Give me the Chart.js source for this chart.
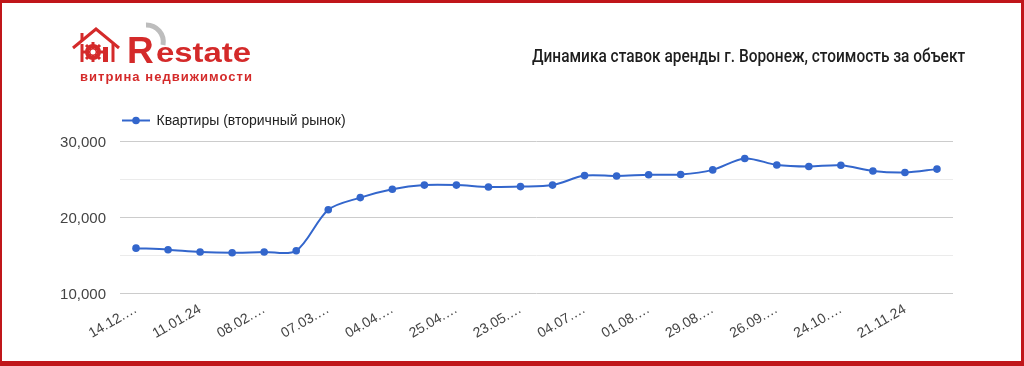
<!DOCTYPE html>
<html><head><meta charset="utf-8">
<script src="https://cdn.jsdelivr.net/npm/chart.js@4"></script>
<style>
html,body{margin:0;padding:0;background:#fff;}
#wrap{position:relative;width:1024px;height:366px;overflow:hidden;background:#fff;}
#frame{position:absolute;left:0;top:0;width:1024px;height:366px;box-sizing:border-box;border-style:solid;border-color:#c0161a;border-width:3px 3px 5px 2px;pointer-events:none;z-index:5;}
#c{position:absolute;left:0;top:0;}
#title{position:absolute;left:532px;top:44px;font-family:Roboto,"Liberation Sans",sans-serif;font-weight:500;font-size:19px;color:#1e1e1e;white-space:nowrap;transform-origin:0 0;}
#logo{position:absolute;left:0;top:0;}
</style></head>
<body><div id="wrap">
<canvas id="c" width="1024" height="366"></canvas>
<svg id="logo" width="280" height="95" xmlns="http://www.w3.org/2000/svg">
  <path d="M146 25 A17 17 0 0 1 163 45" stroke="#bdbdbd" stroke-width="5" fill="none"/>
  <g stroke="#d42a2a" stroke-width="3" fill="none" stroke-linejoin="miter">
    <polyline points="73,48 96,29 119,48"/>
    <line x1="82" y1="44" x2="82" y2="62"/>
    <line x1="113" y1="44" x2="113" y2="62"/>
    <line x1="82" y1="41" x2="82" y2="33"/>
  </g>
  <rect x="103" y="47" width="5" height="15" fill="#d42a2a"/>
  <circle cx="93" cy="52" r="6" fill="none" stroke="#d42a2a" stroke-width="4"/>
  <g stroke="#d42a2a" stroke-width="3">
    <line x1="93" y1="42" x2="93" y2="62"/><line x1="83" y1="52" x2="103" y2="52"/>
    <line x1="86" y1="45" x2="100" y2="59"/><line x1="100" y1="45" x2="86" y2="59"/>
  </g>
  <circle cx="93" cy="52" r="2.5" fill="#fff"/>
  <text x="127" y="63" font-family="Liberation Sans, Arial, sans-serif" font-weight="bold" font-size="37" fill="#d42a2a">R</text>
  <text x="156" y="62" font-family="Liberation Sans, Arial, sans-serif" font-weight="bold" font-size="27" fill="#d42a2a" textLength="95" lengthAdjust="spacingAndGlyphs">estate</text>
  <text x="80" y="81" font-family="Liberation Sans, Arial, sans-serif" font-weight="bold" font-size="13" fill="#d42a2a" textLength="172" lengthAdjust="spacing">витрина недвижимости</text>
</svg>
<div id="title">Динамика ставок аренды г. Воронеж, стоимость за объект</div>
<div id="frame"></div>
</div>
<script>
// ---- data ----
const categories = ['14.12.…','28.12.…','11.01.24','25.01.…','08.02.…','22.02.…','07.03.…','21.03.…','04.04.…','11.04.…','25.04.…','09.05.…','23.05.…','06.06.…','04.07.…','18.07.…','01.08.…','15.08.…','29.08.…','12.09.…','26.09.…','10.10.…','24.10.…','07.11.…','21.11.24','05.12.…'];
const seriesName = 'Квартиры (вторичный рынок)';
const seriesValues = [15900,15700,15400,15300,15400,15550,20950,22550,23650,24200,24200,23950,24000,24200,25450,25400,25550,25600,26200,27700,26850,26650,26800,26050,25850,26300];
const yTickValues = [10000,20000,30000];
const seriesColor = '#3366cc';

// fit title width
const t = document.getElementById('title');
t.style.transform = 'scaleX(' + (433 / t.scrollWidth) + ')';

const legendPlugin = {
  id: 'gLegend',
  afterDraw(chart) {
    const ctx = chart.ctx;
    const ds = chart.data.datasets[0];
    const y = 120.5;
    ctx.save();
    ctx.strokeStyle = ds.borderColor; ctx.lineWidth = 2;
    ctx.beginPath(); ctx.moveTo(122, y); ctx.lineTo(150, y); ctx.stroke();
    ctx.fillStyle = ds.borderColor;
    ctx.beginPath(); ctx.arc(136, y, 3.8, 0, Math.PI * 2); ctx.fill();
    ctx.fillStyle = '#222';
    ctx.font = '14px "Liberation Sans", Arial, sans-serif';
    ctx.textBaseline = 'middle';
    ctx.fillText(ds.label, 156.5, y + 0.5);
    ctx.restore();
  }
};

new Chart(document.getElementById('c'), {
  type: 'line',
  data: {
    labels: categories,
    datasets: [{
      label: seriesName,
      data: seriesValues,
      borderColor: seriesColor,
      backgroundColor: seriesColor,
      borderWidth: 2,
      pointRadius: 3.8,
      pointBorderWidth: 0,
      pointBackgroundColor: seriesColor,
      tension: 0.3,
      fill: false
    }]
  },
  options: {
    responsive: false,
    animation: false,
    layout: { padding: { top: 141, right: 71, bottom: 0, left: 0 } },
    plugins: { legend: { display: false }, tooltip: { enabled: false } },
    scales: {
      x: {
        offset: true,
        grid: { display: false, drawTicks: false },
        border: { display: false },
        afterFit(s) { s.height = 73; },
        ticks: {
          autoSkip: false, minRotation: 30, maxRotation: 30, padding: 8,
          color: '#444',
          font: { family: '"Liberation Sans", Arial, sans-serif', size: 14 },
          callback(v, i) { return i % 2 === 0 ? this.getLabelForValue(v) : ''; }
        }
      },
      y: {
        min: 10000, max: 30000,
        afterFit(s) { s.width = 120; },
        border: { display: false },
        grid: {
          drawTicks: false,
          color: (c) => yTickValues.includes(c.tick.value) ? '#cccccc' : '#ebebeb',
          lineWidth: 1
        },
        ticks: {
          stepSize: 5000, padding: 14, color: '#444', labelOffset: 1.5,
          font: { family: '"Liberation Sans", Arial, sans-serif', size: 15 },
          callback: (v) => yTickValues.includes(v) ? v.toLocaleString('en-US') : ''
        }
      }
    }
  },
  plugins: [legendPlugin]
});
</script>
</body></html>
